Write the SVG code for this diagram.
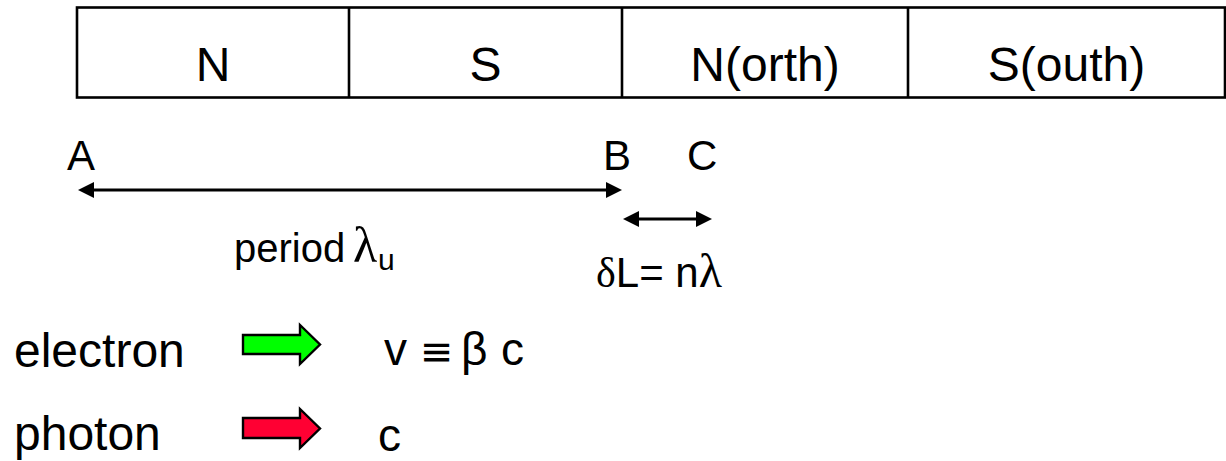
<svg xmlns="http://www.w3.org/2000/svg" width="1226" height="461" viewBox="0 0 1226 461">
<style>
.t{font-family:"Liberation Sans",Arial,sans-serif;fill:#000}
.s{font-family:"Liberation Serif","Times New Roman",serif;fill:#000}
.box{fill:#fff;stroke:#000;stroke-width:2.6}
.ln{stroke:#000;stroke-width:3;fill:none}
.blk{stroke:#000;stroke-width:2.4;stroke-linejoin:miter}
</style>
<defs>
<marker id="ah" viewBox="0 0 16 16" markerWidth="16" markerHeight="16" refX="10" refY="8" orient="auto-start-reverse" markerUnits="userSpaceOnUse">
<path d="M0,0 L16,8 L0,16 z" fill="#000"/>
</marker>
</defs>
<rect width="1226" height="461" fill="#fff"/>
<g id="magnets">
<rect class="box" x="77" y="7.5" width="1148" height="90"/>
<line class="box" x1="349" y1="7.5" x2="349" y2="97.5"/>
<line class="box" x1="622" y1="7.5" x2="622" y2="97.5"/>
<line class="box" x1="908" y1="7.5" x2="908" y2="97.5"/>
<text class="t" x="213" y="81" font-size="48" text-anchor="middle">N</text>
<text class="t" x="485.5" y="81" font-size="48" text-anchor="middle">S</text>
<text class="t" x="765" y="81" font-size="48" text-anchor="middle">N(orth)</text>
<text class="t" x="1066.5" y="81" font-size="48" text-anchor="middle">S(outh)</text>
</g>
<g id="labels">
<text class="t" x="67" y="170" font-size="42">A</text>
<text class="t" x="603" y="170" font-size="42">B</text>
<text class="t" x="687" y="170" font-size="42">C</text>
<text class="t" x="234" y="262" font-size="40">period</text>
<text class="s" x="353" y="262" font-size="50">λ</text>
<text class="t" x="378" y="270" font-size="30">u</text>
<text x="596" y="287" font-size="42"><tspan class="s">δ</tspan><tspan class="t">L= n</tspan><tspan class="s" font-size="48">λ</tspan></text>
</g>
<g id="connectors">
<line class="ln" x1="84" y1="190" x2="616" y2="190" marker-start="url(#ah)" marker-end="url(#ah)"/>
<line class="ln" x1="629" y1="219" x2="706" y2="219" marker-start="url(#ah)" marker-end="url(#ah)"/>
</g>
<g id="electron">
<text class="t" x="14" y="367" font-size="48">electron</text>
<polygon class="blk" fill="#00ff00" points="243,335 300,335 300,325 320,344.5 300,364 300,354 243,354"/>
<text class="t" y="365" font-size="46"><tspan x="384">v</tspan><tspan x="420" font-family="DejaVu Sans" font-size="40">≡</tspan><tspan x="461">β</tspan><tspan x="501">c</tspan></text>
</g>
<g id="photon">
<text class="t" x="14" y="450" font-size="48">photon</text>
<polygon class="blk" fill="#ff0033" points="243,418 300,418 300,409 320,428.5 300,448 300,438 243,438"/>
<text class="t" x="378" y="451" font-size="46">c</text>
</g>
</svg>
